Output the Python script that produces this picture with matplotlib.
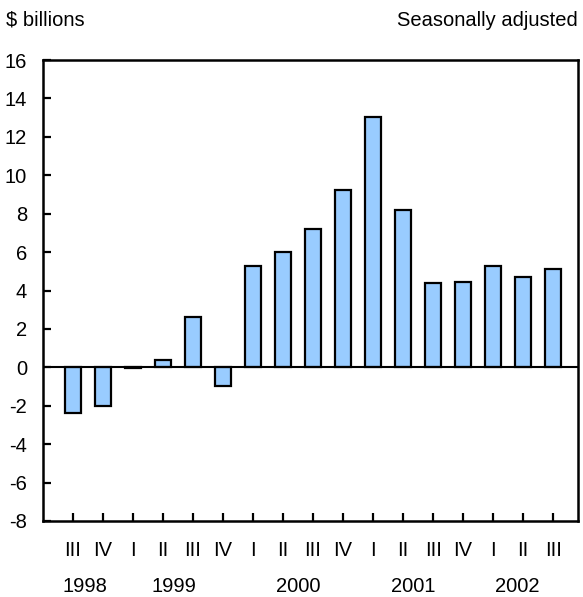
import matplotlib
matplotlib.use('Agg')
import matplotlib.pyplot as plt
import numpy as np

plt.rcParams['font.family'] = ['Liberation Sans', 'DejaVu Sans']

# quarterly values, $ billions, seasonally adjusted
quarters = ['III', 'IV', 'I', 'II', 'III', 'IV', 'I', 'II', 'III', 'IV',
            'I', 'II', 'III', 'IV', 'I', 'II', 'III']
values = [-2.4, -2.0, -0.05, 0.4, 2.6, -0.95, 5.3, 6.0, 7.2, 9.25,
          13.05, 8.2, 4.4, 4.45, 5.3, 4.7, 5.1]
years = ['1998', '1999', '2000', '2001', '2002']
year_pos = [0.4, 3.35, 7.5, 11.35, 14.8]

fs = 14.5
fig = plt.figure(figsize=(5.83, 5.97), dpi=100)
ax = fig.add_axes([43/583, 1 - 521/597, 535/583, 461/597])

x = np.arange(len(values))
ax.bar(x, values, width=0.56, color='#99ccff', edgecolor='black', linewidth=1.6, zorder=2)
ax.axhline(0, color='black', linewidth=1.5, zorder=3)

ax.set_xlim(-1.0, 16.83)
ax.set_ylim(-8, 16)
ax.set_yticks(np.arange(-8, 17, 2))
ax.set_yticklabels([str(v) for v in range(-8, 17, 2)], fontsize=fs)
ax.set_xticks(x)
ax.set_xticklabels([])
ax.tick_params(axis='both', direction='in', length=6, width=1.6, color='black')
ax.tick_params(axis='y', pad=11.5)
for s in ax.spines.values():
    s.set_linewidth(1.8)

for xi, q in zip(x, quarters):
    ax.text(xi, -9.53, q, ha='center', va='center', fontsize=fs)
for xp, yr in zip(year_pos, years):
    ax.text(xp, -11.4, yr, ha='center', va='center', fontsize=fs)

fig.text(6/583, 1 - 20/597, '$ billions', ha='left', va='center', fontsize=fs)
fig.text(578/583, 1 - 20/597, 'Seasonally adjusted', ha='right', va='center', fontsize=fs)

fig.savefig('out.png', dpi=100)
